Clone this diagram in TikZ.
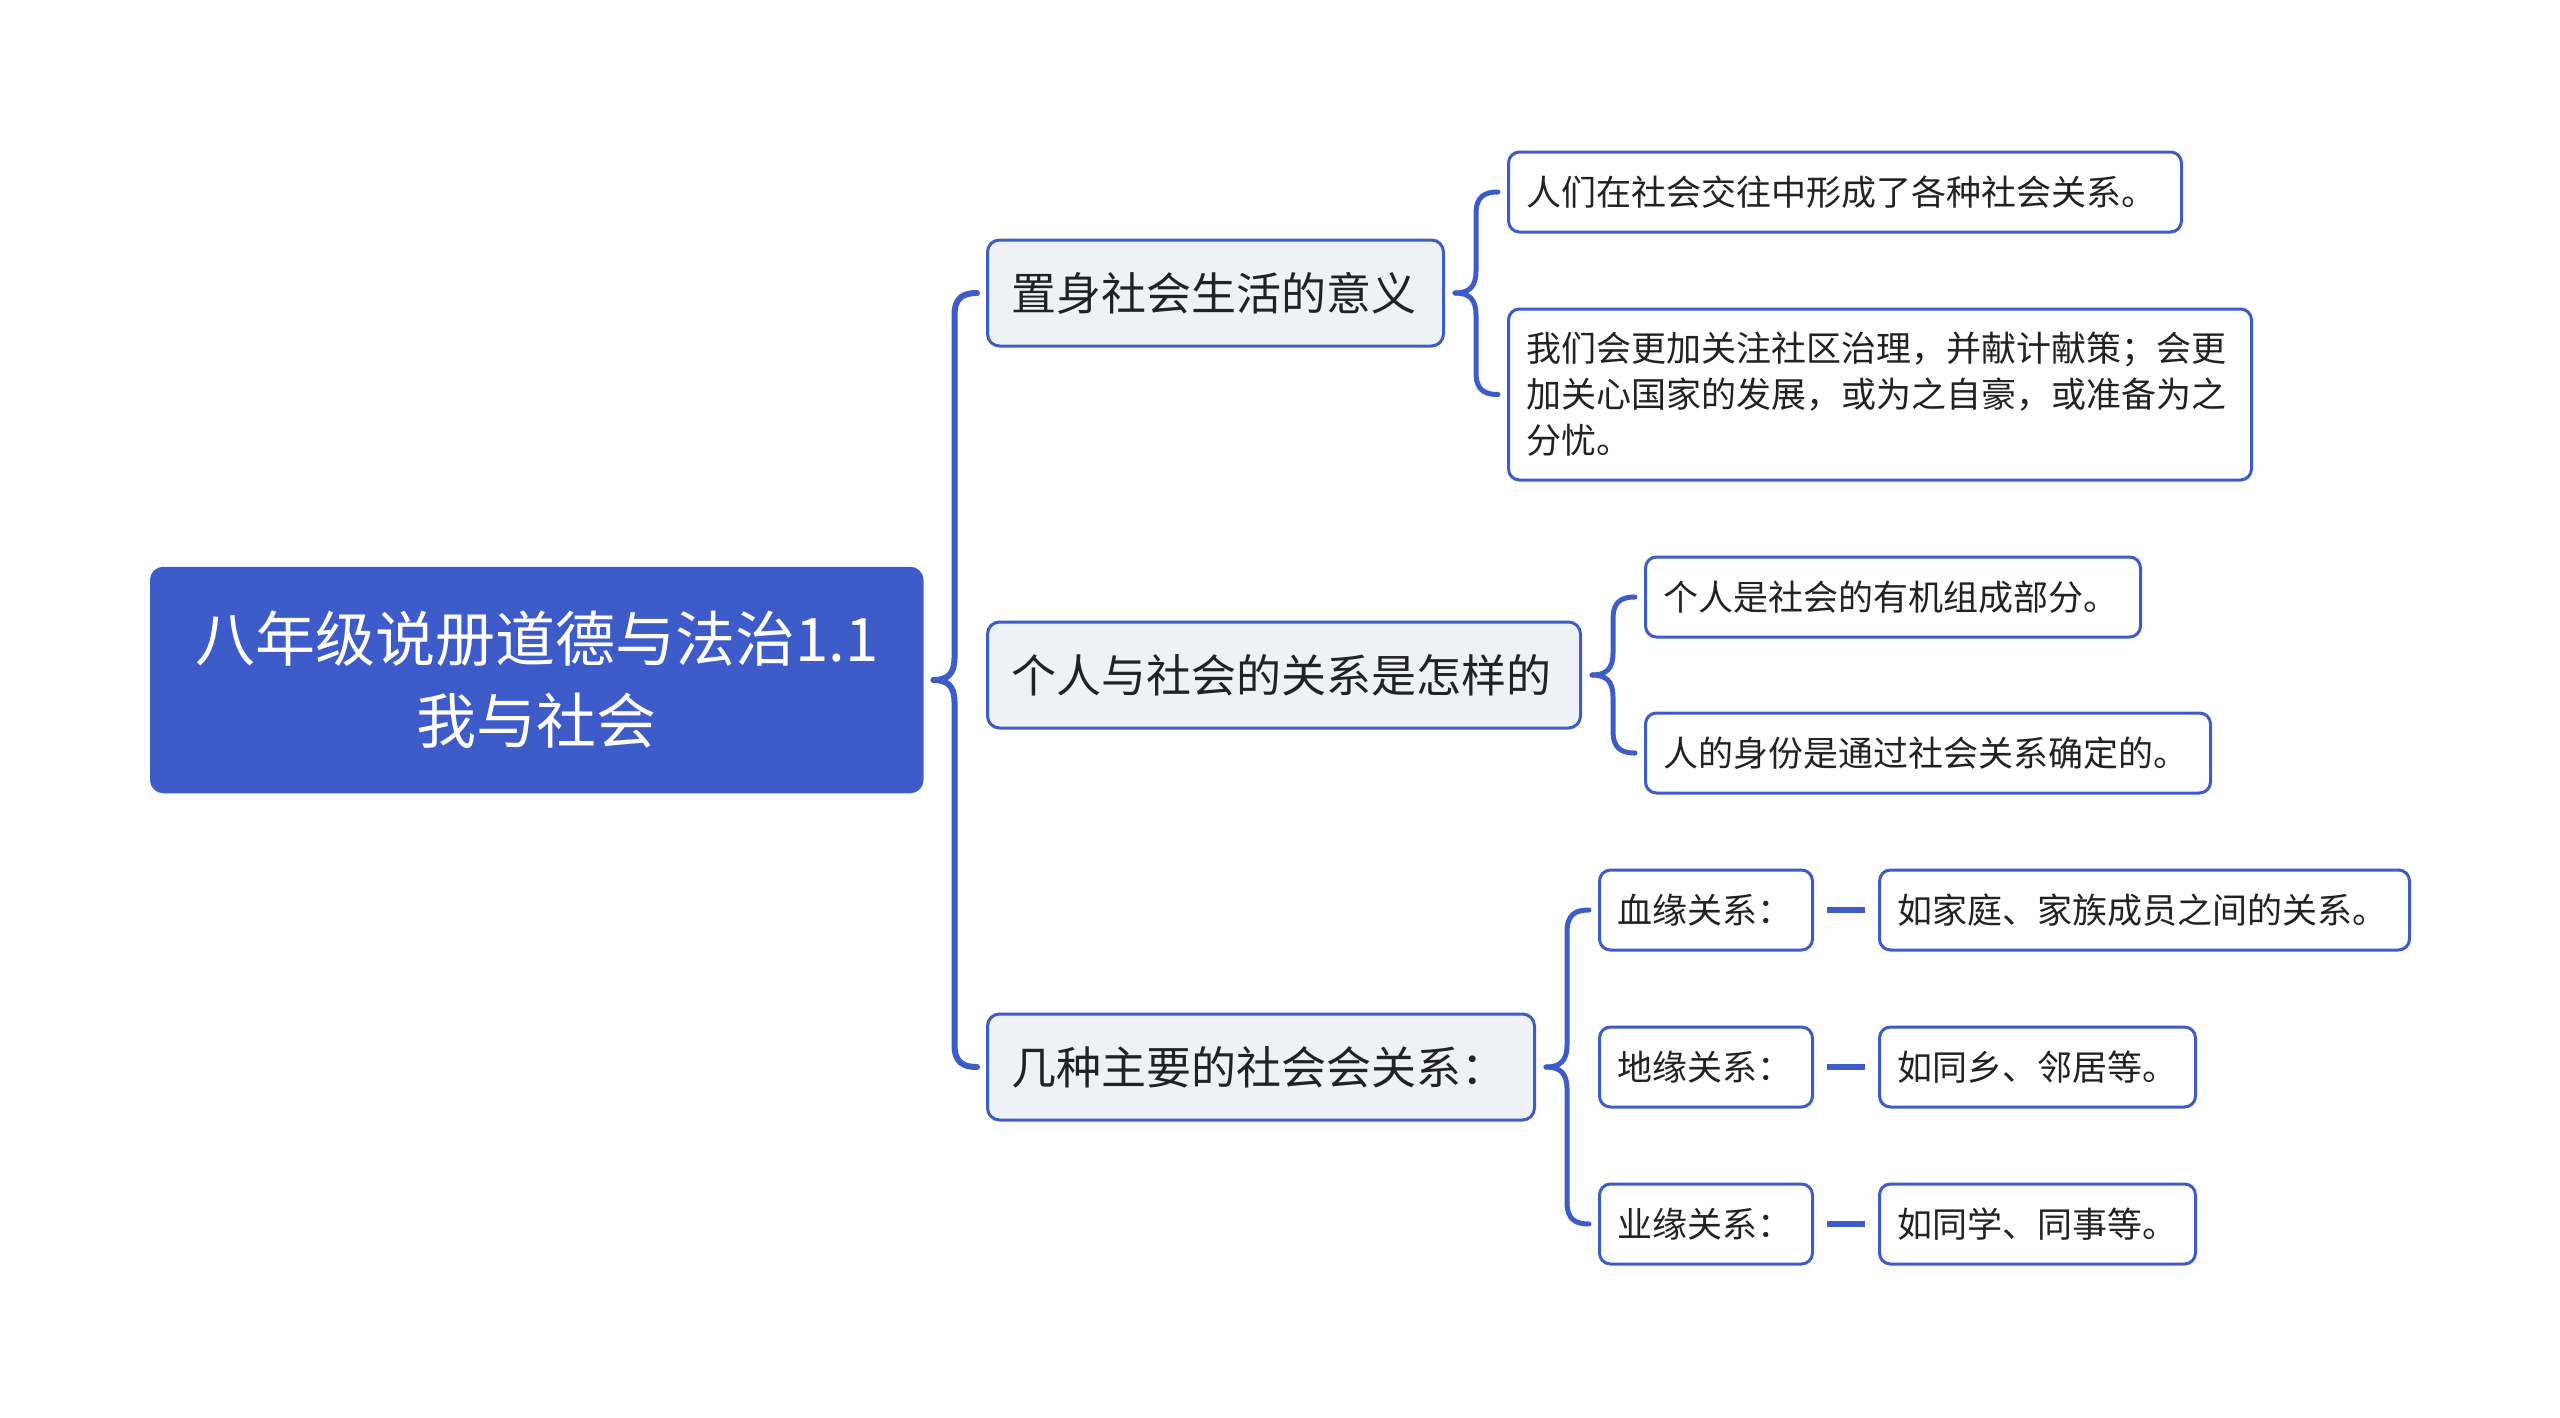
\documentclass[tikz,border=0pt]{standalone}
\usepackage{fontspec}
\setmainfont{Noto Sans CJK SC}
\usetikzlibrary{calc}
\definecolor{mblue}{HTML}{3D5BC9}
\definecolor{lgray}{HTML}{EEF1F6}
\definecolor{txt}{HTML}{222222}
\newcommand\mybrace[4][]{%
  \draw[conn,#1] let \p1=(#2.east), \p2=(#3.west), \p3=(#4.west) in
    ({\x1+10pt},\y1) .. controls ({\x1+24pt},\y1) and ({\x1+31pt},{\y1+6pt}) .. ({\x1+31pt},{\y1+22pt})
    -- ({\x1+31pt},{\y2-22pt}) .. controls ({\x1+31pt},{\y2-4pt}) and ({\x2-22pt},\y2) .. ({\x2-9pt},\y2);
  \draw[conn,#1] let \p1=(#2.east), \p2=(#3.west), \p3=(#4.west) in
    ({\x1+10pt},\y1) .. controls ({\x1+24pt},\y1) and ({\x1+31pt},{\y1-6pt}) .. ({\x1+31pt},{\y1-22pt})
    -- ({\x1+31pt},{\y3+22pt}) .. controls ({\x1+31pt},{\y3+4pt}) and ({\x3-22pt},\y3) .. ({\x3-9pt},\y3);
}
\begin{document}
\begin{tikzpicture}[x=1pt,y=-1pt,
  rootbox/.style={draw=mblue, fill=mblue, line width=2.5pt, rounded corners=12pt,
    text=white, font=\fontsize{60}{82}\selectfont, align=center, anchor=west,
    minimum height=224pt, minimum width=771pt, inner sep=0pt},
  lonebox/.style={draw=mblue, fill=lgray, line width=3pt, rounded corners=12pt,
    text=txt, font=\fontsize{45}{56}\selectfont, align=left, anchor=west,
    minimum height=106pt, inner xsep=24pt, inner ysep=0pt},
  leafbox/.style={draw=mblue, fill=white, line width=3pt, rounded corners=11pt,
    text=txt, font=\fontsize{35}{46}\selectfont, align=left, anchor=west,
    minimum height=80pt, inner xsep=18pt, inner ysep=0pt},
  conn/.style={draw=mblue, line width=5pt, line cap=round},
  dashline/.style={draw=mblue, line width=6pt}
]
\useasboundingbox (0,0) rectangle (2560,1417);

\node[rootbox] (root) at (150,680) {八年级说册道德与法治1.1\\我与社会};

\node[lonebox, text width=408pt] (n1) at (986,293) {置身社会生活的意义};
\node[lonebox, text width=545pt] (n2) at (986,675) {个人与社会的关系是怎样的};
\node[lonebox, text width=499pt] (n3) at (986,1067) {几种主要的社会会关系：};

\node[leafbox, text width=637pt] (l1a) at (1507,192) {人们在社会交往中形成了各种社会关系。};
\node[leafbox, text width=707pt, minimum height=171pt] (l1b) at (1507,394.5) {我们会更加关注社区治理，并献计献策；会更\\加关心国家的发展，或为之自豪，或准备为之\\分忧。};

\node[leafbox, text width=459pt] (l2a) at (1644,597) {个人是社会的有机组成部分。};
\node[leafbox, text width=529pt] (l2b) at (1644,753) {人的身份是通过社会关系确定的。};

\node[leafbox, text width=177pt] (k3a) at (1598,910) {血缘关系：};
\node[leafbox, text width=177pt] (k3b) at (1598,1067) {地缘关系：};
\node[leafbox, text width=177pt] (k3c) at (1598,1224) {业缘关系：};

\node[leafbox, text width=494pt] (v3a) at (1878,910) {如家庭、家族成员之间的关系。};
\node[leafbox, text width=280pt] (v3b) at (1878,1067) {如同乡、邻居等。};
\node[leafbox, text width=280pt] (v3c) at (1878,1224) {如同学、同事等。};

\mybrace[line width=6pt]{root}{n1}{n3}
\mybrace{n1}{l1a}{l1b}
\mybrace{n2}{l2a}{l2b}
\mybrace{n3}{k3a}{k3c}

\draw[dashline] ($(k3a.east)+(13,0)$) -- ($(v3a.west)+(-13,0)$);
\draw[dashline] ($(k3b.east)+(13,0)$) -- ($(v3b.west)+(-13,0)$);
\draw[dashline] ($(k3c.east)+(13,0)$) -- ($(v3c.west)+(-13,0)$);
\end{tikzpicture}
\end{document}
